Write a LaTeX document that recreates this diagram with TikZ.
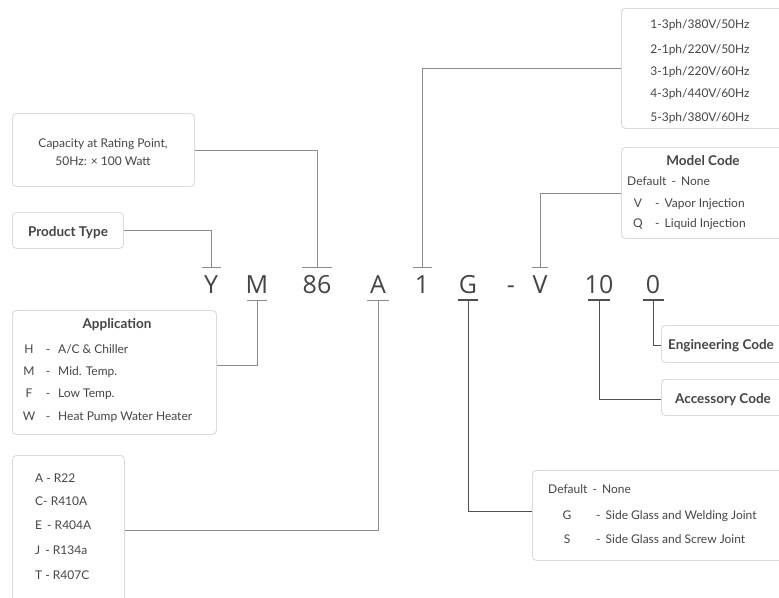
\documentclass[tikz,border=0pt]{standalone}
\usepackage{fontspec}
\setmainfont{Lato}
\newfontfamily\codefont{Open Sans}
\definecolor{boxc}{HTML}{DADADA}
\definecolor{txt}{HTML}{454545}
\definecolor{lnc}{HTML}{8C8C8C}
\definecolor{lnd}{HTML}{505050}
\begin{document}
\begin{tikzpicture}[x=1pt,y=-1pt,
  box/.style={draw=boxc,line width=0.9pt,rounded corners=4pt,fill=white,inner sep=0pt,anchor=north west},
  bt/.style={text=txt,font=\fontsize{12}{14}\selectfont,inner sep=0pt,anchor=base},
  btl/.style={bt,anchor=base west},
  bold/.style={bt,font=\fontsize{13.5}{15}\selectfont\bfseries},
  code/.style={text=txt,font=\codefont\fontsize{25}{28}\selectfont,inner sep=0pt,anchor=base},
  conn/.style={draw=lnc,line width=0.9pt},
  connd/.style={draw=lnd,line width=1pt},
  bar/.style={draw=lnc,line width=1pt},
  bard/.style={draw=lnd,line width=1.2pt}]
\useasboundingbox (0,0) rectangle (779,597);
% boxes
\node[box,minimum width=182pt,minimum height=73pt] (cap) at (12,113) {};
\node[box,minimum width=111pt,minimum height=36pt] (ptype) at (12,212) {};
\node[box,minimum width=204pt,minimum height=124pt] (app) at (12,310) {};
\node[box,minimum width=112pt,minimum height=150pt] (ref) at (12,455) {};
\node[box,minimum width=200pt,minimum height=120pt] (volt) at (621,8) {};
\node[box,minimum width=200pt,minimum height=91pt] (model) at (621,147) {};
\node[box,minimum width=150pt,minimum height=37pt] (eng) at (661,325) {};
\node[box,minimum width=150pt,minimum height=36pt] (acc) at (661,379) {};
\node[box,minimum width=280pt,minimum height=90pt] (glass) at (532,470) {};
% box texts
\node[bt] (cap1) at (103,147) {Capacity at Rating Point,};
\node[bt] (cap2) at (103,165) {50Hz: × 100 Watt};
\node[bold] (pt) at (68,236) {Product Type};
\node[bold] (appt) at (117,328) {Application};
\foreach \l/\t/\y [count=\i] in {H/{A/C \& Chiller}/353,M/{Mid. Temp.}/375,F/{Low Temp.}/397,W/{Heat Pump Water Heater}/420}{
  \node[bt] (appl\i) at (29,\y) {\l};
  \node[bt] (appd\i) at (48,\y) {-};
  \node[btl] (appx\i) at (58,\y) {\t};
}
\node[btl] (r1) at (35,482) {A - R22};
\node[btl] (r2) at (35,505) {C- R410A};
\node[btl] (r3) at (35,529) {E\, - R404A};
\node[btl] (r4) at (35,554) {J\, - R134a};
\node[btl] (r5) at (35,579) {T - R407C};
\node[bt] (v1) at (700,28) {1-3ph/380V/50Hz};
\node[bt] (v2) at (700,53) {2-1ph/220V/50Hz};
\node[bt] (v3) at (700,75) {3-1ph/220V/60Hz};
\node[bt] (v4) at (700,97) {4-3ph/440V/60Hz};
\node[bt] (v5) at (700,121) {5-3ph/380V/60Hz};
\node[bold] (mt) at (703,165) {Model Code};
\node[btl] (m1) at (627,185) {Default\, - \,None};
\node[bt] (m2l) at (638,207) {V};
\node[btl] (m2) at (655,207) {-\, Vapor Injection};
\node[bt] (m3l) at (638,227) {Q};
\node[btl] (m3) at (655,227) {-\, Liquid Injection};
\node[bold,anchor=base west] (engt) at (668,349) {Engineering Code};
\node[bold,anchor=base west] (acct) at (675,403) {Accessory Code};
\node[btl] (g1) at (548,493) {Default\, - \,None};
\node[bt] (g2l) at (567,519) {G};
\node[btl] (g2) at (596,519) {-\, Side Glass and Welding Joint};
\node[bt] (g3l) at (567,543) {S};
\node[btl] (g3) at (596,543) {-\, Side Glass and Screw Joint};
% code letters
\node[code] (cY) at (211,293) {Y};
\node[code] (cM) at (257,293) {M};
\node[code] (c86) at (317,293) {86};
\node[code] (cA) at (378,293) {A};
\node[code] (c1) at (422,293) {1};
\node[code] (cG) at (468,293) {G};
\node[code] (cdash) at (511,293) {-};
\node[code] (cV) at (540,293) {V};
\node[code] (c10) at (599,293) {10};
\node[code] (c0) at (653,293) {0};
% bar coordinates
\coordinate (tY) at (211,267);
\coordinate (t86) at (317,267);
\coordinate (t1) at (422,267);
\coordinate (tV) at (540,267);
\coordinate (bM) at (257,300);
\coordinate (bA) at (378,300);
\coordinate (bG) at (468,300);
\coordinate (b10) at (599,300);
\coordinate (b0) at (653,300);
% bars
\draw[bar] ([xshift=-9.5pt]tY) -- ([xshift=9.5pt]tY);
\draw[bar] ([xshift=-15pt]t86) -- ([xshift=15pt]t86);
\draw[bar] ([xshift=-9.5pt]t1) -- ([xshift=9.5pt]t1);
\draw[bar] ([xshift=-8pt]tV) -- ([xshift=8pt]tV);
\draw[bar] ([xshift=-10pt]bM) -- ([xshift=10pt]bM);
\draw[bar] ([xshift=-11pt]bA) -- ([xshift=11pt]bA);
\draw[bard] ([xshift=-10pt]bG) -- ([xshift=10pt]bG);
\draw[bard] ([xshift=-11pt]b10) -- ([xshift=11pt]b10);
\draw[bard] ([xshift=-10.5pt]b0) -- ([xshift=10.5pt]b0);
% connectors
\draw[conn] (ptype.east) -| (tY);
\draw[conn] (cap.east) -| (t86);
\draw[conn] (volt.west) -| (t1);
\draw[conn] (model.west) -| (tV);
\draw[conn] (app.east |- 0,365) -| (bM);
\draw[conn] (ref.east) -| (bA);
\draw[connd] (glass.west |- 0,511) -| (bG);
\draw[connd] (acc.west |- 0,399) -| (b10);
\draw[connd] (eng.west |- 0,345) -| (b0);
\end{tikzpicture}
\end{document}
